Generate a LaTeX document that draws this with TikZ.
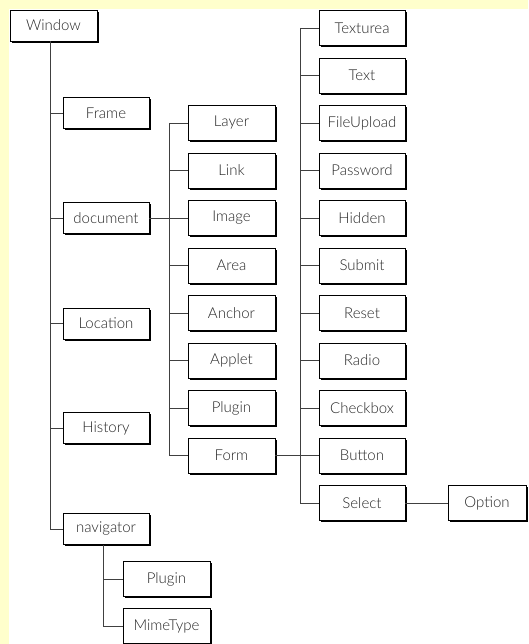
\documentclass[tikz,border=0pt]{standalone}
\usepackage{fontspec}
\setmainfont{Lato Light}
\usetikzlibrary{shadows,positioning}

\definecolor{paleyellow}{RGB}{255,255,204}
\tikzset{
  box/.style={draw=black, fill=white, line width=0.8pt, inner sep=0pt,
    minimum width=86pt, minimum height=31pt, text=black!85,
    font=\fontsize{15}{17}\selectfont,
    general shadow={fill=black, shadow xshift=1.6pt, shadow yshift=-1.6pt}},
  tallbox/.style={box, minimum height=35pt},
  link/.style={draw=black!75, line width=0.9pt},
}

\begin{document}
\begin{tikzpicture}[x=1pt, y=-1pt]
        \useasboundingbox (0,0) rectangle (528,644);
        \fill[paleyellow] (0,0) rectangle (528,644);
        \fill[white] (9,9) rectangle (528,644);
        % trunk lines
        \coordinate (wbus) at (50,0);
        \coordinate (nbus) at (103,0);
        \coordinate (dbus) at (169,0);
        \coordinate (fbus) at (300,0);
        % first level
        \node[box, minimum width=87pt] (window) at (53.5,25.5) {Window};
        \node[box] (frame) at (106,113) {Frame};
        \node[box] (document) at (106,218) {document};
        \node[box] (location) at (106,323.5) {Location};
        \node[box] (history) at (106,428) {History};
        \node[box] (navigator) at (106,529) {navigator};
        % document children
        \node[tallbox, minimum width=87pt] (layer) at (231.5,123) {Layer};
        \node[tallbox, minimum width=87pt] (link) at (231.5,170.5) {Link};
        \node[tallbox, minimum width=87pt] (image) at (231.5,218) {Image};
        \node[tallbox, minimum width=87pt] (area) at (231.5,265.5) {Area};
        \node[tallbox, minimum width=87pt] (anchor) at (231.5,313) {Anchor};
        \node[tallbox, minimum width=87pt] (applet) at (231.5,360.5) {Applet};
        \node[tallbox, minimum width=87pt] (docplugin) at (231.5,408) {Plugin};
        \node[tallbox, minimum width=87pt] (form) at (231.5,455.5) {Form};
        % form children
        \node[tallbox] (texturea) at (362,28) {Texturea};
        \node[tallbox] (text) at (362,75.5) {Text};
        \node[tallbox] (fileupload) at (362,123) {FileUpload};
        \node[tallbox] (password) at (362,170.5) {Password};
        \node[tallbox] (hidden) at (362,218) {Hidden};
        \node[tallbox] (submit) at (362,265.5) {Submit};
        \node[tallbox] (reset) at (362,313) {Reset};
        \node[tallbox] (radio) at (362,360.5) {Radio};
        \node[tallbox] (checkbox) at (362,408) {Checkbox};
        \node[tallbox] (button) at (362,455.5) {Button};
        \node[tallbox] (select) at (362,503) {Select};
        \node[tallbox, minimum width=78pt] (option) at (487,503) {Option};
        % navigator children
        \node[tallbox, minimum width=87pt] (navplugin) at (166.5,579) {Plugin};
        \node[tallbox, minimum width=87pt] (mimetype) at (166.5,626) {MimeType};
        % connectors
        \draw[link] (window.south -| wbus) -- (navigator.west -| wbus);
        \foreach \n in {frame,document,location,history,navigator}
          \draw[link] (\n.west -| wbus) -- (\n.west);
        \draw[link] (layer.west -| dbus) -- (form.west -| dbus);
        \foreach \n in {layer,link,area,anchor,applet,docplugin,form}
          \draw[link] (\n.west -| dbus) -- (\n.west);
        \draw[link] (document.east) -- (image.west);
        \draw[link] (texturea.west -| fbus) -- (select.west -| fbus);
        \foreach \n in {texturea,text,fileupload,password,hidden,submit,reset,radio,checkbox,select}
          \draw[link] (\n.west -| fbus) -- (\n.west);
        \draw[link] (form.east) -- (button.west);
        \draw[link] (select.east) -- (option.west);
        \draw[link] (navigator.south -| nbus) -- (mimetype.west -| nbus);
        \foreach \n in {navplugin,mimetype}
          \draw[link] (\n.west -| nbus) -- (\n.west);
\end{tikzpicture}
\end{document}
